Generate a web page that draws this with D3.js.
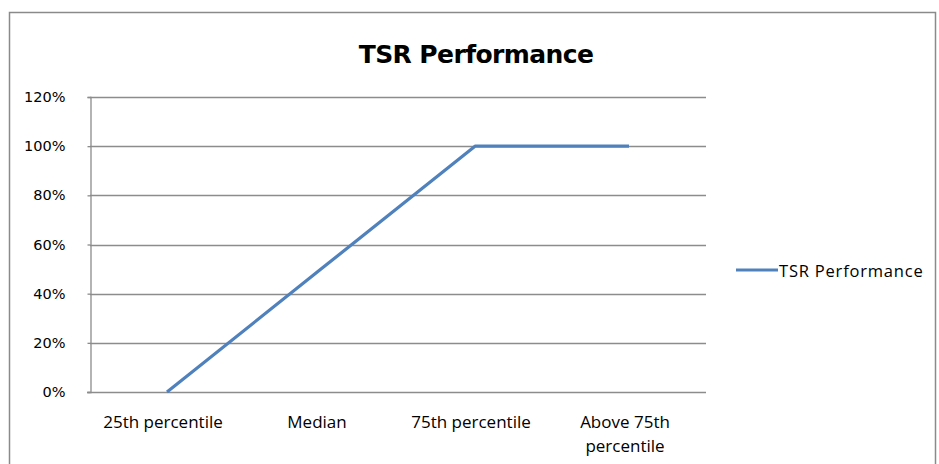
<!DOCTYPE html>
<html><head><meta charset="utf-8">
<script src="https://cdn.jsdelivr.net/npm/d3@7"></script>
<style>body{margin:0;background:#fff}svg{display:block}</style>
</head><body>
<script>
const categories = ["25th percentile", "Median", "75th percentile", "Above 75th percentile"];
const seriesName = "TSR Performance";
const values = [0, 0.5, 1.0, 1.0];
const yTicks = [0, 0.2, 0.4, 0.6, 0.8, 1.0, 1.2];

(function() {
const W = 939, H = 464;
const svg = d3.select("body").append("svg").attr("width", W).attr("height", H);
svg.append("rect").attr("x", 9.5).attr("y", 12.5).attr("width", 926).attr("height", 470)
  .attr("fill", "#fff").attr("stroke", "#8a8a8a").attr("stroke-width", 1.5);

const pL = 90, pR = 706, pT = 97, pB = 392;
const x = d3.scaleBand().domain(categories).range([pL, pR]);
const y = d3.scaleLinear().domain([0, 1.2]).range([pB, pT]);

svg.append("text").attr("x", 476).attr("y", 63).attr("text-anchor", "middle")
  .attr("font-family", "DejaVu Sans, sans-serif").attr("font-weight", "bold")
  .attr("font-size", 25).attr("letter-spacing", -0.6).attr("fill", "#000").text("TSR Performance");

// gridlines
svg.append("g").selectAll("line").data(yTicks.filter(d => d > 0)).join("line")
  .attr("x1", pL).attr("x2", pR).attr("y1", d => Math.round(y(d)) + 0.5).attr("y2", d => Math.round(y(d)) + 0.5)
  .attr("stroke", "#8c8c8c").attr("stroke-width", 1.3);

// y axis
const yAxis = d3.axisLeft(y).tickValues(yTicks).tickFormat(d3.format(".0%")).tickSize(3).tickPadding(22);
const gy = svg.append("g").attr("transform", `translate(${pL + 0.5},0)`).call(yAxis);
gy.select(".domain").attr("stroke", "#8c8c8c").attr("stroke-width", 1.3);
gy.selectAll(".tick line").attr("stroke", "#8c8c8c").attr("stroke-width", 1.3);
gy.selectAll(".tick text").attr("font-family", "DejaVu Sans, sans-serif").attr("font-size", 14.5)
  .attr("dy", "0.32em").attr("fill", "#000");

// x axis
const xAxis = d3.axisBottom(x).tickSize(0).tickPadding(0);
const gx = svg.append("g").attr("transform", `translate(0,${pB + 0.5})`).call(xAxis);
gx.select(".domain").attr("stroke", "#8c8c8c").attr("stroke-width", 1.3).attr("d", `M${pL - 3},0H${pR}`);
gx.selectAll(".tick text").text(null).attr("dy", null).attr("y", null)
  .attr("font-family", "Open Sans, sans-serif").attr("font-size", 17)
  .attr("fill", "#000").each(function(d) {
    const t = d3.select(this);
    const lines = d === "Above 75th percentile" ? ["Above 75th", "percentile"] : [d];
    lines.forEach((l, i) => t.append("tspan").attr("x", -4).attr("y", 35 + i * 24).text(l));
  });

// line
const line = d3.line().x((d, i) => x(categories[i]) + x.bandwidth() / 2).y(d => y(d));
svg.append("path").datum(values).attr("d", line).attr("fill", "none")
  .attr("stroke", "#4f81bd").attr("stroke-width", 3.2).attr("stroke-linejoin", "round");

// legend
const lg = svg.append("g").attr("transform", "translate(736,270)");
lg.append("line").attr("x1", 0).attr("x2", 42).attr("y1", 0).attr("y2", 0)
  .attr("stroke", "#4f81bd").attr("stroke-width", 3.2);
lg.append("text").attr("x", 43).attr("y", 7).attr("font-family", "Open Sans, sans-serif")
  .attr("font-size", 16.5).attr("letter-spacing", 0.8).attr("fill", "#000").text(seriesName);
})();
</script>
</body></html>
